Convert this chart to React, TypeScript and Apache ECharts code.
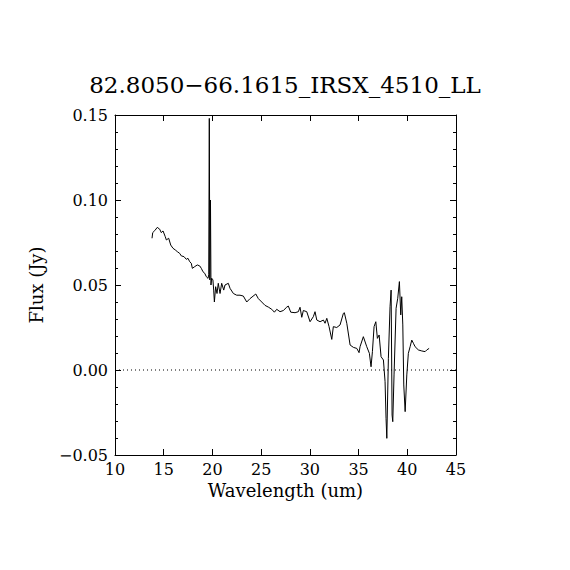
import React, { useEffect, useRef } from "react";
import * as echarts from "echarts";

const TITLE = "82.8050\u221266.1615_IRSX_4510_LL";
const X_NAME = "Wavelength (um)";
const Y_NAME = "Flux (Jy)";

const X_MIN = 10;
const X_MAX = 45;
const X_STEP = 5;
const Y_MIN = -0.05;
const Y_MAX = 0.15;
const Y_STEP = 0.05;
const ZERO_LINE_X = [10, 45];
const ZERO_LINE_Y = [0, 0];

const WAVELENGTH = [
  13.80, 13.87, 14.08, 14.34, 14.59, 14.75, 14.93, 15.16, 15.27, 15.51,
  15.72, 15.95, 16.19, 16.40, 16.64, 16.81, 17.08, 17.32, 17.49, 17.67,
  17.83, 17.94, 18.18, 18.45, 18.70, 18.86, 19.03, 19.21, 19.37, 19.55,
  19.62, 19.68, 19.73, 19.80, 19.85, 19.92, 20.05, 20.13, 20.20, 20.33,
  20.47, 20.60, 20.78, 20.95, 21.16, 21.29, 21.63, 21.81, 22.15, 22.49,
  22.83, 23.17, 23.52, 23.86, 24.45, 24.71, 25.06, 25.40, 25.74, 26.09,
  26.36, 26.60, 26.94, 27.28, 27.63, 27.79, 28.04, 28.48, 28.82, 28.99,
  29.17, 29.33, 29.68, 30.02, 30.36, 30.53, 30.71, 31.05, 31.39, 31.56,
  31.74, 31.97, 32.25, 32.41, 32.76, 33.10, 33.44, 33.54, 33.79, 34.13,
  34.47, 34.82, 35.05, 35.15, 35.49, 35.84, 36.11, 36.28, 36.42, 36.59,
  36.77, 36.93, 37.11, 37.31, 37.55, 37.72, 37.82, 37.90, 38.06, 38.23,
  38.34, 38.44, 38.51, 38.64, 38.85, 39.02, 39.19, 39.33, 39.43, 39.54,
  39.64, 39.78, 39.95, 40.11, 40.29, 40.46, 40.63, 40.80, 41.14, 41.49,
  41.83, 42.00, 42.24,
];

const FLUX = [
  0.0775, 0.0808, 0.0820, 0.0839, 0.0828, 0.0808, 0.0818, 0.0784, 0.0765, 0.0775,
  0.0735, 0.0716, 0.0706, 0.0696, 0.0686, 0.0671, 0.0667, 0.0651, 0.0657, 0.0637,
  0.0628, 0.0598, 0.0608, 0.0618, 0.0612, 0.0598, 0.0578, 0.0569, 0.0549, 0.0539,
  0.0560, 0.1480, 0.0530, 0.1000, 0.0500, 0.0540, 0.0530, 0.0470, 0.0400, 0.0490,
  0.0450, 0.0510, 0.0450, 0.0510, 0.0470, 0.0500, 0.0510, 0.0480, 0.0450, 0.0440,
  0.0440, 0.0435, 0.0400, 0.0420, 0.0447, 0.0420, 0.0400, 0.0380, 0.0370, 0.0357,
  0.0340, 0.0357, 0.0343, 0.0350, 0.0370, 0.0376, 0.0340, 0.0337, 0.0343, 0.0369,
  0.0310, 0.0350, 0.0343, 0.0284, 0.0314, 0.0343, 0.0294, 0.0284, 0.0294, 0.0275,
  0.0304, 0.0255, 0.0180, 0.0255, 0.0250, 0.0265, 0.0333, 0.0337, 0.0275, 0.0147,
  0.0133, 0.0127, 0.0102, 0.0137, 0.0196, 0.0137, 0.0098, 0.0019, 0.0108, 0.0255,
  0.0284, 0.0186, 0.0206, 0.0078, 0.0059, -0.0069, -0.0284, -0.0402, 0.0069, 0.0372,
  0.0470, -0.0265, -0.0304, -0.0029, 0.0363, 0.0422, 0.0520, 0.0324, 0.0431, 0.0265,
  -0.0088, -0.0245, -0.0029, 0.0098, 0.0137, 0.0176, 0.0157, 0.0137, 0.0118, 0.0112,
  0.0108, 0.0118, 0.0127,
];

const FONT = "DejaVu Serif";

export default function App() {
  const ref = useRef<HTMLDivElement>(null);
  useEffect(() => {
    if (!ref.current) return;
    const chart = echarts.init(ref.current, null, { renderer: "svg" });
    const data = WAVELENGTH.map((x, i) => [x, FLUX[i]]);
    const zero = ZERO_LINE_X.map((x, i) => [x, ZERO_LINE_Y[i]]);
    const axisLine = { show: true, onZero: false, lineStyle: { color: "#000", width: 1 } };
    const labelStyle = { color: "#000", fontFamily: FONT, fontSize: 16 };
    const nameStyle = { color: "#000", fontFamily: FONT, fontSize: 18 };
    const xBase = {
      type: "value" as const,
      min: X_MIN,
      max: X_MAX,
      interval: X_STEP,
      axisLine,
      axisTick: { show: true, inside: true, length: 6, lineStyle: { color: "#000", width: 1 } },
      splitLine: { show: false },
    };
    const yBase = {
      type: "value" as const,
      min: Y_MIN,
      max: Y_MAX,
      interval: Y_STEP,
      axisLine,
      axisTick: { show: true, inside: true, length: 6, lineStyle: { color: "#000", width: 1 } },
      minorTick: { show: true, splitNumber: 5, length: 3, lineStyle: { color: "#000", width: 1 } },
      splitLine: { show: false },
      minorSplitLine: { show: false },
    };
    chart.setOption({
      animation: false,
      backgroundColor: "#fff",
      title: {
        text: TITLE,
        left: "center",
        top: 68,
        textStyle: { fontFamily: FONT, fontSize: 23, fontWeight: "normal", color: "#000" },
      },
      grid: { left: 115, top: 115, width: 341, height: 340 },
      xAxis: [
        {
          ...xBase,
          position: "bottom",
          axisLabel: { ...labelStyle, margin: 6 },
          name: X_NAME,
          nameLocation: "middle",
          nameGap: 26,
          nameTextStyle: { ...nameStyle, verticalAlign: "top" },
        },
        { ...xBase, position: "top", axisLabel: { show: false } },
      ],
      yAxis: [
        {
          ...yBase,
          position: "left",
          axisLabel: {
            ...labelStyle,
            margin: 7,
            formatter: (v: number) => (v < 0 ? "\u2212" + Math.abs(v).toFixed(2) : v.toFixed(2)),
          },
          name: Y_NAME,
          nameLocation: "middle",
          nameGap: 70,
          nameTextStyle: nameStyle,
        },
        { ...yBase, position: "right", axisLabel: { show: false } },
      ],
      series: [
        {
          type: "line",
          data: zero,
          showSymbol: false,
          symbol: "none",
          silent: true,
          lineStyle: { color: "#000", width: 1, type: [1, 3] },
          z: 1,
        },
        {
          type: "line",
          data,
          showSymbol: false,
          symbol: "none",
          lineStyle: { color: "#000", width: 1 },
          z: 2,
        },
      ],
    });
    return () => chart.dispose();
  }, []);
  return (
    <div
      ref={ref}
      style={{ position: "fixed", left: 0, top: 0, width: 570, height: 570, background: "#fff" }}
    />
  );
}
